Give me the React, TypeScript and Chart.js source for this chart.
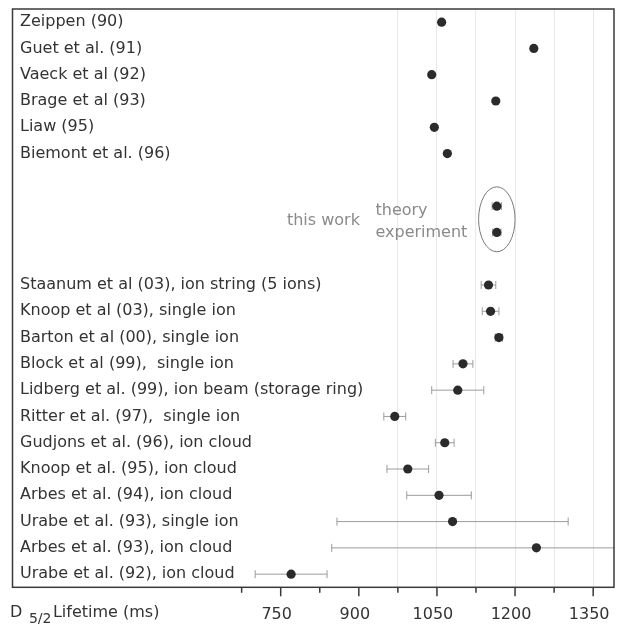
import React, { useEffect, useRef } from 'react';
import { Chart, registerables } from 'chart.js';

Chart.register(...registerables);

// Row labels, top to bottom (empty rows keep the gaps of the original figure)
const rowLabels = [
  'Zeippen (90)',
  'Guet et al. (91)',
  'Vaeck et al (92)',
  'Brage et al (93)',
  'Liaw (95)',
  'Biemont et al. (96)',
  '',
  '',
  '',
  '',
  'Staanum et al (03), ion string (5 ions)',
  'Knoop et al (03), single ion',
  'Barton et al (00), single ion',
  'Block et al (99),  single ion',
  'Lidberg et al. (99), ion beam (storage ring)',
  'Ritter et al. (97),  single ion',
  'Gudjons et al. (96), ion cloud',
  'Knoop et al. (95), ion cloud',
  'Arbes et al. (94), ion cloud',
  'Urabe et al. (93), single ion',
  'Arbes et al. (93), ion cloud',
  'Urabe et al. (92), ion cloud',
];

// D5/2 lifetime (ms) for each row, and its uncertainty (ms)
const lifetimes: (number | null)[] = [
  1059, 1236, 1040, 1163, 1045, 1070, null, 1165, 1165, null,
  1149, 1153, 1169, 1100, 1090, 969, 1065, 994, 1054, 1080, 1241, 770,
];
const errors: (number | null)[] = [
  0, 0, 0, 0, 0, 0, null, 9, 8, null,
  14, 16, 7, 19, 50, 21, 18, 40, 62, 222, 393, 69,
];

// axis
const xMin = 235;
const xMax = 1390;
const xTicks = [675, 750, 825, 900, 975, 1050, 1125, 1200, 1275, 1350];
const xLabeledTicks = [750, 900, 1050, 1200, 1350];
const gridStart = 975;

// annotation texts
const thisWorkTexts = ['this work', 'theory', 'experiment'];
const axisTitleParts = ['D', '5/2', 'Lifetime (ms)'];

const FONT = '"DejaVu Sans", sans-serif';

export default function App() {
  const ref = useRef<HTMLCanvasElement>(null);

  useEffect(() => {
    document.body.style.margin = '0';
    const canvas = ref.current!;

    const points = lifetimes
      .map((v, i) => (v == null ? null : { x: v, y: i }))
      .filter((p) => p !== null) as { x: number; y: number }[];

    const errorBars = {
      id: 'errorBars',
      beforeDatasetsDraw(chart: any) {
        const { ctx, chartArea: a, scales } = chart;
        const xs = scales.x;
        const ys = scales.y;
        ctx.save();
        ctx.beginPath();
        ctx.rect(a.left, a.top, a.right - a.left, a.bottom - a.top);
        ctx.clip();
        ctx.strokeStyle = '#9c9c9c';
        ctx.lineWidth = 1;
        lifetimes.forEach((v, i) => {
          const e = errors[i];
          if (v == null || !e) return;
          const py = ys.getPixelForValue(i);
          const x1 = xs.getPixelForValue(v - e);
          const x2 = xs.getPixelForValue(v + e);
          ctx.beginPath();
          ctx.moveTo(x1, py);
          ctx.lineTo(x2, py);
          ctx.moveTo(x1, py - 4);
          ctx.lineTo(x1, py + 4);
          ctx.moveTo(x2, py - 4);
          ctx.lineTo(x2, py + 4);
          ctx.stroke();
        });
        ctx.restore();
      },
    };

    const decorations = {
      id: 'decorations',
      afterDatasetsDraw(chart: any) {
        const { ctx, scales } = chart;
        const xs = scales.x;
        const ys = scales.y;
        // ellipse around "this work"
        const cx = xs.getPixelForValue(1165);
        const cy = ys.getPixelForValue(7.5);
        const rx = xs.getPixelForValue(1165 + 35) - cx;
        const ry = ys.getPixelForValue(7.5 + 1.235) - cy;
        ctx.save();
        ctx.strokeStyle = '#7a7a7a';
        ctx.lineWidth = 1;
        ctx.beginPath();
        ctx.ellipse(cx, cy, rx, ry, 0, 0, Math.PI * 2);
        ctx.stroke();
        ctx.fillStyle = '#8a8a8a';
        ctx.font = `16px ${FONT}`;
        ctx.textAlign = 'left';
        ctx.textBaseline = 'alphabetic';
        ctx.fillText(thisWorkTexts[0], xs.getPixelForValue(762), ys.getPixelForValue(7.5) + 5.5);
        ctx.fillText(thisWorkTexts[1], xs.getPixelForValue(932), ys.getPixelForValue(7) + 8.5);
        ctx.fillText(thisWorkTexts[2], xs.getPixelForValue(932), ys.getPixelForValue(8) + 4.5);
        ctx.restore();
      },
      afterDraw(chart: any) {
        const { ctx, chartArea: a, scales } = chart;
        const xs = scales.x;
        ctx.save();
        // frame
        ctx.strokeStyle = '#3a3a3a';
        ctx.lineWidth = 1.5;
        ctx.strokeRect(a.left, a.top, a.right - a.left, a.bottom - a.top);
        // tick marks
        ctx.lineWidth = 1.5;
        xs.ticks.forEach((t: any) => {
          const px = xs.getPixelForValue(t.value);
          const len = xLabeledTicks.includes(t.value) ? 9 : 5.5;
          ctx.beginPath();
          ctx.moveTo(px, a.bottom);
          ctx.lineTo(px, a.bottom + len);
          ctx.stroke();
        });
        // axis title  D 5/2 Lifetime (ms)
        ctx.fillStyle = '#333';
        ctx.textAlign = 'left';
        ctx.textBaseline = 'alphabetic';
        const tx = a.left - 2.5;
        const ty = a.bottom + 29.7;
        ctx.font = `16px ${FONT}`;
        ctx.fillText(axisTitleParts[0], tx, ty);
        const x1 = tx + ctx.measureText(axisTitleParts[0] + ' ').width + 1.5;
        ctx.font = `14px ${FONT}`;
        ctx.fillText(axisTitleParts[1], x1, ty + 5.5);
        const x2 = x1 + ctx.measureText(axisTitleParts[1]).width + 1.5;
        ctx.font = `16px ${FONT}`;
        ctx.fillText(axisTitleParts[2], x2, ty);
        ctx.restore();
      },
    };

    const chart = new Chart(canvas, {
      type: 'scatter',
      data: {
        datasets: [
          {
            data: points,
            pointRadius: 4.6,
            pointHoverRadius: 4.6,
            backgroundColor: '#2b2b2b',
            borderWidth: 0,
          },
        ],
      },
      options: {
        animation: false,
        responsive: false,
        events: [],
        layout: { padding: { left: 0, top: 9, right: 6, bottom: 0 } },
        plugins: {
          legend: { display: false },
          tooltip: { enabled: false },
        },
        scales: {
          x: {
            type: 'linear',
            position: 'bottom',
            min: xMin,
            max: xMax,
            afterBuildTicks: (s: any) => {
              s.ticks = xTicks.map((v) => ({ value: v }));
            },
            afterFit: (s: any) => {
              s.height = 36.7;
              s.paddingLeft = 0;
              s.paddingRight = 0;
            },
            grid: {
              drawTicks: false,
              lineWidth: 1,
              color: (c: any) =>
                c.tick && c.tick.value >= gridStart ? '#e8e8e8' : 'rgba(0,0,0,0)',
            },
            border: { display: false },
            ticks: {
              autoSkip: false,
              maxRotation: 0,
              padding: 19.7,
              labelOffset: -4,
              color: '#333',
              font: { family: FONT, size: 16, lineHeight: 1 },
              callback: (v: any) => (xLabeledTicks.includes(v) ? String(v) : ''),
            },
          },
          y: {
            type: 'linear',
            position: 'left',
            min: -0.5,
            max: 21.5,
            reverse: true,
            afterBuildTicks: (s: any) => {
              s.ticks = rowLabels.map((_, i) => ({ value: i }));
            },
            afterFit: (s: any) => {
              s.width = 12.5;
              s.paddingTop = 0;
              s.paddingBottom = 0;
            },
            grid: { display: false, drawTicks: false },
            border: { display: false },
            ticks: {
              mirror: true,
              padding: 7.5,
              autoSkip: false,
              color: '#333',
              font: { family: FONT, size: 16, lineHeight: 1 },
              callback: (_v: any, i: number) => rowLabels[i] ?? '',
            },
          },
        },
      } as any,
      plugins: [errorBars, decorations],
    });

    return () => chart.destroy();
  }, []);

  return (
    <div style={{ width: 620, height: 624 }}>
      <canvas ref={ref} width={620} height={624} style={{ display: 'block' }} />
    </div>
  );
}
